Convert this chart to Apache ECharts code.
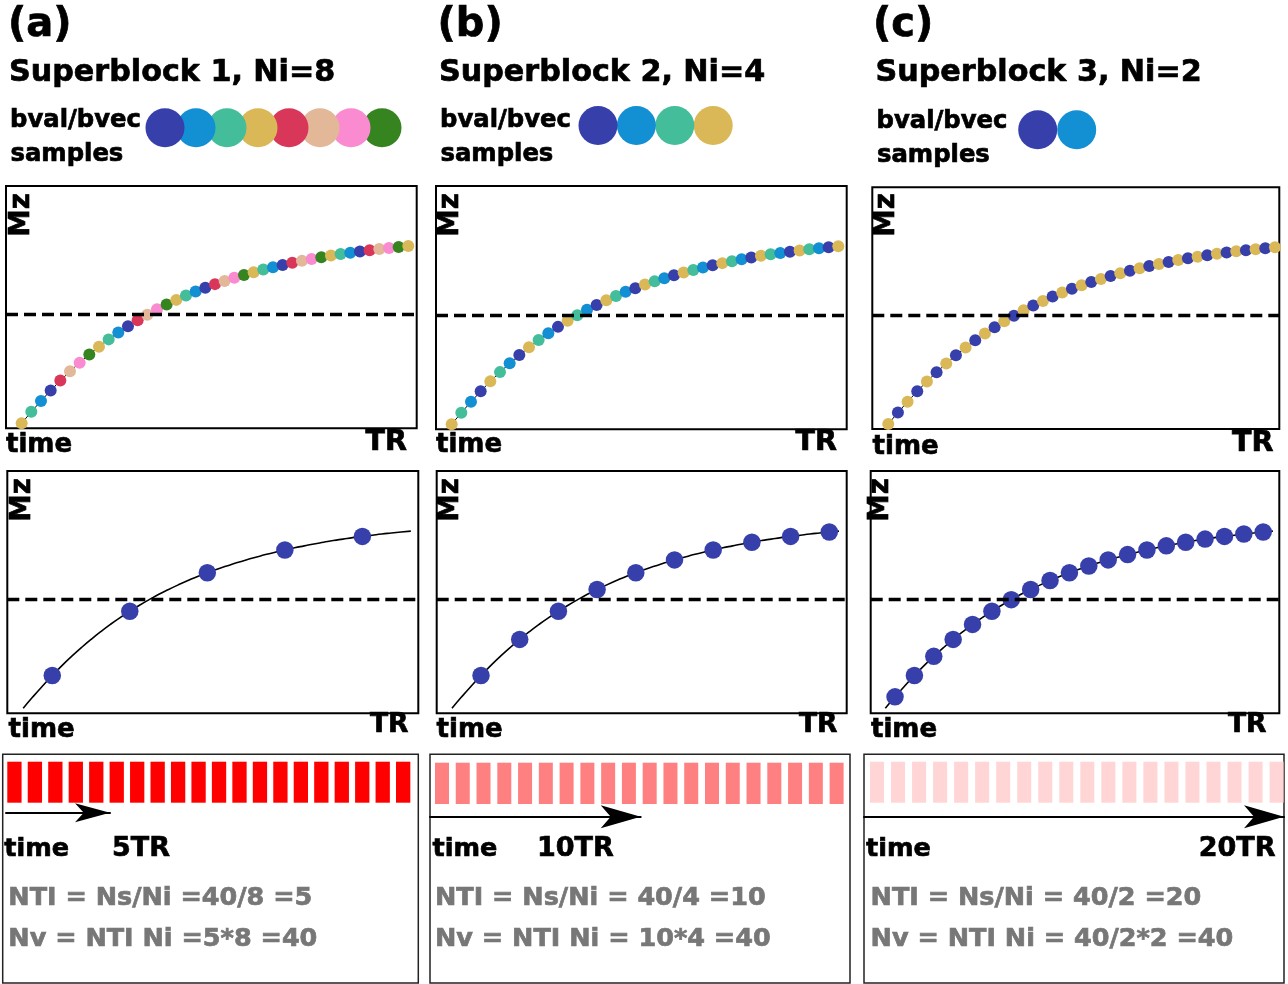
<!DOCTYPE html>
<html><head><meta charset="utf-8">
<script src="https://cdn.jsdelivr.net/npm/echarts@6.0.0/dist/echarts.min.js"></script>
<style>html,body{margin:0;padding:0;background:#fff}#c{width:1288px;height:984px}</style>
</head><body><div id="c"></div>
<script>
// ---------------- data ----------------
const panelLabels = ['(a)', '(b)', '(c)'];
const panelTitles = ['Superblock 1, Ni=8', 'Superblock 2, Ni=4', 'Superblock 3, Ni=2'];
const durations = ['5TR', '10TR', '20TR'];
const ntiLines = ['NTI = Ns/Ni =40/8 =5', 'NTI = Ns/Ni = 40/4 =10', 'NTI = Ns/Ni = 40/2 =20'];
const nvLines = ['Nv = NTI Ni =5*8 =40', 'Nv = NTI Ni = 10*4 =40', 'Nv = NTI Ni = 40/2*2 =40'];
// sample number within one TR (41 readouts)
const sampleIndex = [0,1,2,3,4,5,6,7,8,9,10,11,12,13,14,15,16,17,18,19,20,21,22,23,24,25,26,27,28,29,30,31,32,33,34,35,36,37,38,39,40];
// Mz recovery (box height = 1)
const mz = [0.021,0.068,0.113,0.156,0.197,0.235,0.271,0.305,0.337,0.367,0.395,0.421,0.446,0.469,0.491,0.511,0.530,0.548,0.565,0.580,
            0.595,0.608,0.621,0.633,0.644,0.655,0.665,0.674,0.683,0.691,0.699,0.706,0.713,0.719,0.725,0.730,0.735,0.740,0.744,0.748,0.752];
const nullLevel = 0.466;
// samples acquired for one bval/bvec (middle row)
const pickedA = [3, 11, 19, 27, 35];
const pickedB = [3, 7, 11, 15, 19, 23, 27, 31, 35, 39];
const pickedC = [1, 3, 5, 7, 9, 11, 13, 15, 17, 19, 21, 23, 25, 27, 29, 31, 33, 35, 37, 39];
const picked = [pickedA, pickedB, pickedC];
// bval/bvec legend samples
const legendA = ['darkblue', 'blue', 'teal', 'yellow', 'red', 'tan', 'pink', 'green'];
const legendB = ['darkblue', 'blue', 'teal', 'yellow'];
const legendC = ['darkblue', 'blue'];
const legends = [legendA, legendB, legendC];
// colour cycle along the curve
const cycleA = ['yellow', 'teal', 'blue', 'darkblue', 'red', 'tan', 'pink', 'green'];
const cycleB = ['yellow', 'teal', 'blue', 'darkblue'];
const cycleC = ['yellow', 'darkblue'];
const cycles = [cycleA, cycleB, cycleC];
// TR pulses in the acquisition timeline
const trLabels = ['1','2','3','4','5','6','7','8','9','10','11','12','13','14','15','16','17','18','19','20'];
const pulses = [1,1,1,1,1,1,1,1,1,1,1,1,1,1,1,1,1,1,1,1];

// ---------------- styles / layout ----------------
const palette = {darkblue:'#373fab', blue:'#138fd3', teal:'#43bd9a', yellow:'#dbb857',
                 red:'#d9375a', tan:'#e2b898', pink:'#fa8bd0', green:'#368420'};
const barColors = ['#ff0000', '#ff8080', '#ffd5d5'];
const FONT = '"DejaVu Sans", "Liberation Sans", sans-serif';
const topBox = [[6,186,410.7,242.3],[436,186,410.7,243.3],[872.3,187.3,407,241.7]];
const topX = [[-1.62,40.87],[-1.62,40.87],[-1.65,40.45]];
const midBox = [[7.3,471,411,242.3],[436.7,471,410,242.3],[870.7,471,408.6,242.3]];
const midX = [[-1.64,40.77],[-1.58,40.8],[-1.51,40.66]];
const legendGrid = [[149.5,127.8,248],[578.8,125.5,153.6],[1018.2,129.7,78]];
const frameBox = [[2.7,754.3,415.6,228.7],[430,754.3,420,228.7],[864,754.3,420,228.7]];
const barGrid = [[4.2,761.7,409.2,41,14.3],[431.6,762.7,415.4,41.3,14],[866.5,761.7,420.6,41,14]];
const arrowGrid = [[6,812.7,104,[14.25,35]],[430,816.7,210.7,[17.25,40]],[864,816.7,420,[17.25,40]]];

const grids = [], xAxes = [], yAxes = [], series = [], graphics = [];
function hidden(o) { return Object.assign({type:'value', show:false, splitLine:{show:false}, axisLabel:{show:false}, axisTick:{show:false}}, o); }
function addGrid(g, xa, ya) {
  grids.push(Object.assign({containLabel:false}, g));
  const gi = grids.length - 1;
  xa.gridIndex = gi; ya.gridIndex = gi;
  xAxes.push(xa); yAxes.push(ya);
  return gi;
}
function txt(x, y, text, size, opt) {
  opt = opt || {};
  const col = opt.color || '#000';
  graphics.push({
    type:'text', x:x, y:y, rotation: opt.rot || 0, silent:true,
    style:{text:text, fontSize:size, fontWeight:'bold', fontFamily:FONT,
           fill: col, stroke: col, lineWidth: 0.7,
           align: opt.align || 'left', verticalAlign:'middle'}
  });
}

for (let p = 0; p < 3; p++) {
  // ---- headers
  txt([8, 437.5, 873][p], 26, panelLabels[p], 40);
  txt([9, 439, 875.5][p], 73.5, panelTitles[p], 30.2);
  txt([10, 440, 876.5][p], 120.6 + (p === 2 ? 1 : 0), 'bval/bvec', 24.3);
  txt([10.5, 440.5, 877][p], 154.3 + (p === 2 ? 1 : 0), 'samples', 24.3);

  // ---- legend circles
  const lg = legendGrid[p];
  const nL = legends[p].length;
  let gi = addGrid({left:lg[0], top:lg[1]-10, width:lg[2], height:20},
                   hidden({min:-0.5, max:nL-0.5}), hidden({min:-1, max:1}));
  const lgData = [];
  for (let k = nL - 1; k >= 0; k--) lgData.push({value:[k, 0], itemStyle:{color:palette[legends[p][k]], opacity:1}});
  series.push({type:'scatter', xAxisIndex:gi, yAxisIndex:gi, symbolSize:39, data:lgData, silent:true,
               itemStyle:{opacity:1}});

  // ---- top chart: all samples, coloured by bval/bvec
  const tb = topBox[p];
  gi = addGrid({left:tb[0], top:tb[1], width:tb[2], height:tb[3], show:true, borderColor:'#000', borderWidth:2},
               hidden({min:topX[p][0], max:topX[p][1]}), hidden({min:0, max:1}));
  series.push({type:'line', xAxisIndex:gi, yAxisIndex:gi, symbol:'none', silent:true, z:2,
               data: sampleIndex.map((t, i) => [t, mz[i]]),
               lineStyle:{color:'#000', width:1},
               markLine:{silent:true, symbol:'none', label:{show:false},
                         lineStyle:{color:'#000', width:3.3, type:[12,6]}, data:[{yAxis:nullLevel}]}});
  const cyc = cycles[p];
  series.push({type:'scatter', xAxisIndex:gi, yAxisIndex:gi, symbolSize:12, silent:true, z:3,
               data: sampleIndex.map((t, i) => [t, mz[i]]),
               itemStyle:{opacity:1, color: prm => palette[cyc[prm.dataIndex % cyc.length]]}});
  txt(tb[0] + [16, 15.3, 15][p], 215, 'Mz', 27.5, {rot: Math.PI / 2, align:'center'});
  txt([6, 436, 872.6][p], [445.5, 445.5, 447][p], 'time', 26);
  txt([407, 837, 1273.5][p], [442.2, 442.2, 443.2][p], 'TR', 28.5, {align:'right'});

  // ---- middle chart: one bval/bvec
  const mb = midBox[p];
  gi = addGrid({left:mb[0], top:mb[1], width:mb[2], height:mb[3], show:true, borderColor:'#000', borderWidth:2},
               hidden({min:midX[p][0], max:midX[p][1]}), hidden({min:0, max:1}));
  series.push({type:'line', xAxisIndex:gi, yAxisIndex:gi, symbol:'none', silent:true, smooth:0.5, z:2,
               data: sampleIndex.map((t, i) => [t, mz[i]]),
               lineStyle:{color:'#000', width:1.6},
               markLine:{silent:true, symbol:'none', label:{show:false},
                         lineStyle:{color:'#000', width:3.3, type:[12,6]}, data:[{yAxis:nullLevel}]}});
  series.push({type:'scatter', xAxisIndex:gi, yAxisIndex:gi, symbolSize:17.5, silent:true, z:3,
               data: picked[p].map(i => [sampleIndex[i], mz[i]]),
               itemStyle:{color:palette.darkblue, opacity:1}});
  txt([22.8, 451, 881][p], 500, 'Mz', 27.5, {rot: Math.PI / 2, align:'center'});
  txt([8.6, 436.6, 871][p], 729.8, 'time', 26);
  txt([408.5, 837.5, 1266.5][p], 725.5, 'TR', 26.5, {align:'right'});

  // ---- bottom: acquisition timeline
  const fb = frameBox[p];
  addGrid({left:fb[0], top:fb[1], width:fb[2], height:fb[3], show:true, borderColor:'#222', borderWidth:1.5},
          hidden({min:0, max:1}), hidden({min:0, max:1}));
  const bg = barGrid[p];
  gi = addGrid({left:bg[0], top:bg[1], width:bg[2], height:bg[3]},
               {type:'category', data:trLabels, show:false, boundaryGap:true},
               hidden({min:0, max:1}));
  series.push({type:'bar', xAxisIndex:gi, yAxisIndex:gi, data:pulses, barWidth:bg[4], silent:true,
               itemStyle:{color:barColors[p]}});
  const ag = arrowGrid[p];
  gi = addGrid({left:ag[0], top:ag[1]-10, width:ag[2], height:10},
               {type:'value', min:0, max:1, position:'bottom',
                axisLine:{show:true, onZero:false, symbol:['none','arrow'], symbolSize:ag[3],
                          lineStyle:{color:'#000', width:2}},
                axisTick:{show:false}, axisLabel:{show:false}, splitLine:{show:false}},
               hidden({min:0, max:1}));
  txt([4.3, 432.6, 866][p], 849, 'time', 25.5);
  if (p < 2) txt([112, 537][p], 849, durations[p], 27);
  else txt(1275.5, 849, durations[p], 27, {align:'right'});
  txt([8.3, 435, 870.6][p], 898, ntiLines[p], 25.5, {color:'#777'});
  txt([8.3, 435, 870.6][p], 939.7, nvLines[p], 25.5, {color:'#777'});
}

const chart = echarts.init(document.getElementById('c'), null, {renderer:'canvas', width:1288, height:984});
chart.setOption({
  animation:false,
  backgroundColor:'#fff',
  grid:grids, xAxis:xAxes, yAxis:yAxes, series:series, graphic:graphics
});
</script></body></html>
